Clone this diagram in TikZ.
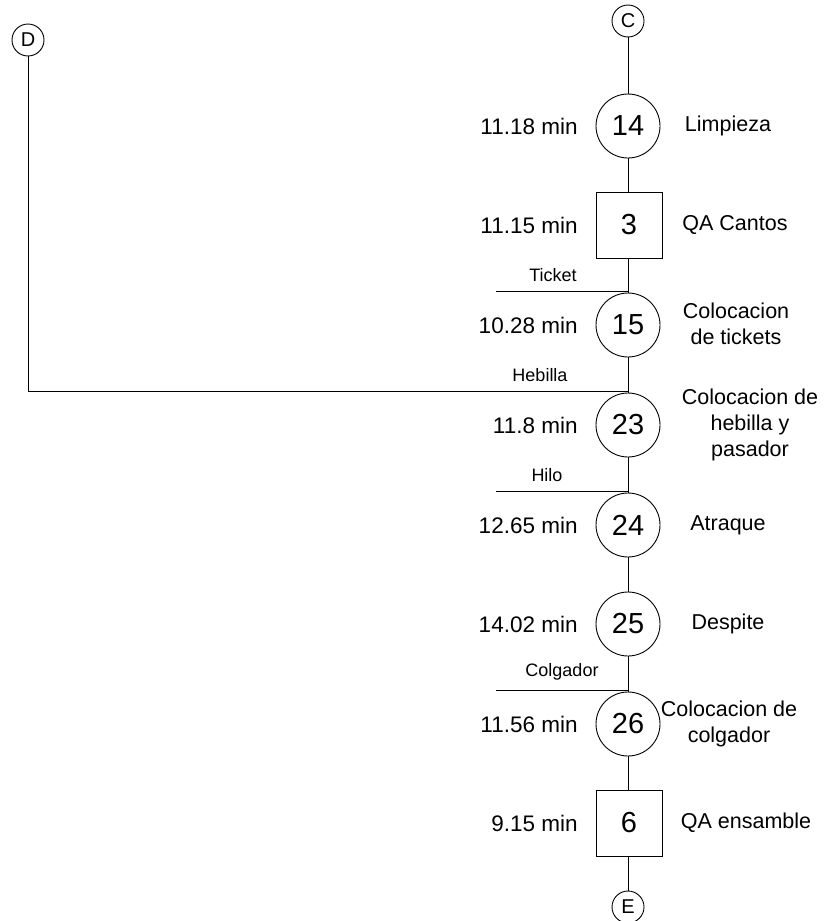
\documentclass[tikz,border=0pt]{standalone}
\usepackage{fontspec}
\setmainfont{Liberation Sans}
\begin{document}
\begin{tikzpicture}[x=1pt,y=-1pt,
  line width=0.9pt,
  op/.style={draw,circle,minimum size=64pt,inner sep=0pt,font=\fontsize{29}{32}\selectfont},
  insp/.style={draw,rectangle,minimum size=66pt,inner sep=0pt,font=\fontsize{29}{32}\selectfont},
  conn/.style={draw,circle,minimum size=32pt,inner sep=0pt,font=\fontsize{20}{22}\selectfont},
  tlab/.style={anchor=east,font=\fontsize{22.5}{25}\selectfont,inner sep=0pt},
  rlab/.style={align=center,font=\fontsize{21.5}{26}\selectfont,inner sep=0pt},
  llab/.style={anchor=south,font=\fontsize{18}{20}\selectfont,inner sep=0pt}]
\useasboundingbox (0,0) rectangle (829,921);
% main column
\node[conn] (C) at (628,21) {C};
\node[conn] (D) at (28,40) {D};
\node[op] (n14) at (628,126) {14};
\node[insp] (n3) at (629,225) {3};
\node[op] (n15) at (628,325) {15};
\node[op] (n23) at (628,425) {23};
\node[op] (n24) at (628,525) {24};
\node[op] (n25) at (628,624) {25};
\node[op] (n26) at (628,724) {26};
\node[insp] (n6) at (629,823) {6};
\node[conn] (E) at (628,907) {E};
% junctions
\coordinate (j1) at (628,291);
\coordinate (t1) at (496,291);
\coordinate (j2) at (628,391);
\coordinate (j3) at (628,491);
\coordinate (t3) at (496,491);
\coordinate (j4) at (628,690);
\coordinate (t4) at (496,690);
% connectors
\draw (C) -- (n14);
\draw (n14) -- (n14 |- n3.north);
\draw (n3.south -| n14) -- (n15);
\draw (n15) -- (n23);
\draw (n23) -- (n24);
\draw (n24) -- (n25);
\draw (n25) -- (n26);
\draw (n26) -- (n26 |- n6.north);
\draw (n6.south -| n26) -- (E);
\draw (t1) -- (j1);
\draw (D) |- (j2);
\draw (t3) -- (j3);
\draw (t4) -- (j4);
% line labels
\node[llab] (lt) at (553,282) {Ticket};
\node[llab] (lh) at (540,382) {Hebilla};
\node[llab] (li) at (547,482) {Hilo};
\node[llab] (lc) at (562,681) {Colgador};
% time labels
\node[tlab] (t14) at (578,126) {11.18 min};
\node[tlab] (t3) at (578,225) {11.15 min};
\node[tlab] (t15) at (578,325) {10.28 min};
\node[tlab] (t23) at (578,425) {11.8 min};
\node[tlab] (t24) at (578,525) {12.65 min};
\node[tlab] (t25) at (578,624) {14.02 min};
\node[tlab] (t26) at (578,724) {11.56 min};
\node[tlab] (t6) at (578,823) {9.15 min};
% description labels
\node[rlab] (r14) at (728,126) {Limpieza};
\node[rlab] (r3) at (735,225) {QA Cantos};
\node[rlab] (r15) at (736,324) {Colocacion\\de tickets};
\node[rlab] (r23) at (750,425) {Colocacion de\\hebilla y\\pasador};
\node[rlab] (r24) at (728,525) {Atraque};
\node[rlab] (r25) at (728,624) {Despite};
\node[rlab] (r26) at (729,724) {Colocacion de\\colgador};
\node[rlab] (r6) at (746,823) {QA ensamble};
\end{tikzpicture}
\end{document}
